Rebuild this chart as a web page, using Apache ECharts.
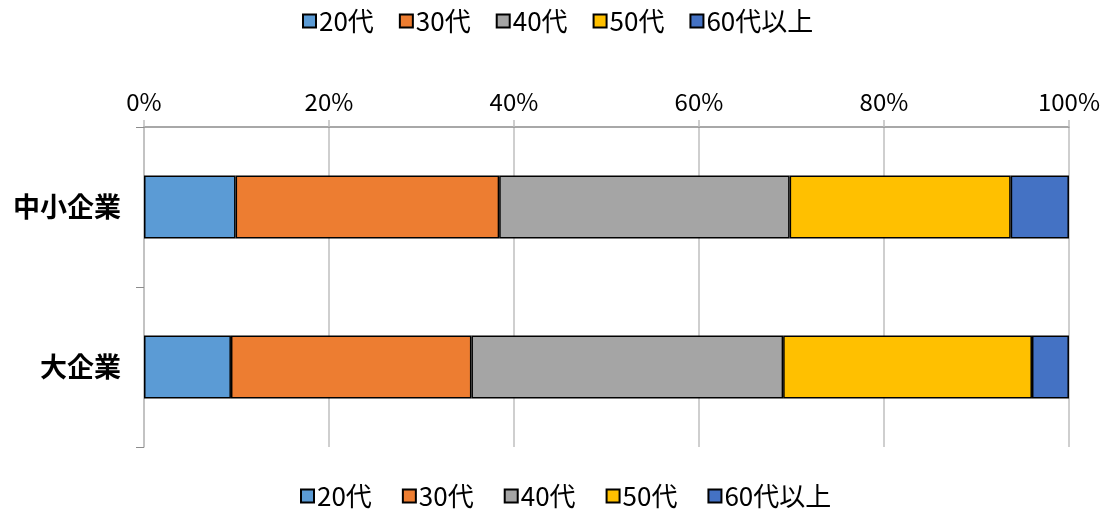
<!DOCTYPE html>
<html>
<head>
<meta charset="utf-8">
<style>
  html, body { margin: 0; padding: 0; background: #fff; }
  #chart { width: 1103px; height: 511px; }
</style>
<script src="https://cdn.jsdelivr.net/npm/echarts@6/dist/echarts.min.js"></script>
</head>
<body>
<div id="chart"></div>
<script>
// Age composition (%) of employees by company size
const categories = ['中小企業', '大企業'];
const ageGroups = ['20代', '30代', '40代', '50代', '60代以上'];
const age20s = [9.9, 9.4];
const age30s = [28.5, 26.0];
const age40s = [31.4, 33.7];
const age50s = [23.9, 26.9];
const age60plus = [6.3, 4.0];
const xTicks = [0, 20, 40, 60, 80, 100];

const colors = ['#5B9BD5', '#ED7D31', '#A5A5A5', '#FFC000', '#4472C4'];
const values = [age20s, age30s, age40s, age50s, age60plus];
const cjk = '"Noto Sans CJK JP", sans-serif';

const chart = echarts.init(document.getElementById('chart'));

const legendBase = {
  data: ageGroups,
  itemWidth: 13,
  itemHeight: 13,
  icon: 'rect',
  textStyle: { fontFamily: cjk, fontSize: 26, color: '#000', padding: [0, 0, 0, -2] }
};

chart.setOption({
  animation: false,
  legend: [
    Object.assign({}, legendBase, { top: 3, left: 297, itemGap: 25 }),
    Object.assign({}, legendBase, { top: 478, left: 295, itemGap: 30 })
  ],
  grid: { left: 144, right: 34, top: 127, bottom: 64 },
  xAxis: {
    type: 'value',
    position: 'top',
    min: xTicks[0],
    max: xTicks[xTicks.length - 1],
    interval: xTicks[1] - xTicks[0],
    axisLine: { show: true, lineStyle: { color: '#8C8C8C', width: 1.5 } },
    axisTick: { show: true, length: 7, lineStyle: { color: '#BFBFBF', width: 1.5 } },
    splitLine: { show: true, lineStyle: { color: '#BFBFBF', width: 1.5 } },
    axisLabel: {
      formatter: '{value}%',
      fontFamily: cjk,
      fontSize: 24,
      color: '#000',
      margin: 13
    }
  },
  yAxis: {
    type: 'category',
    data: categories,
    inverse: true,
    axisLine: { show: true, lineStyle: { color: '#BFBFBF', width: 1.5 } },
    axisTick: { show: true, length: 8, lineStyle: { color: '#8C8C8C', width: 1 } },
    axisLabel: {
      fontFamily: cjk,
      fontWeight: 'bold',
      fontSize: 27,
      color: '#000',
      margin: 23
    }
  },
  series: ageGroups.map((name, i) => ({
    name: name,
    type: 'bar',
    stack: 'total',
    barWidth: 63,
    data: values[i],
    itemStyle: { color: colors[i], borderColor: '#000', borderWidth: 1.5 }
  }))
});
</script>
</body>
</html>
